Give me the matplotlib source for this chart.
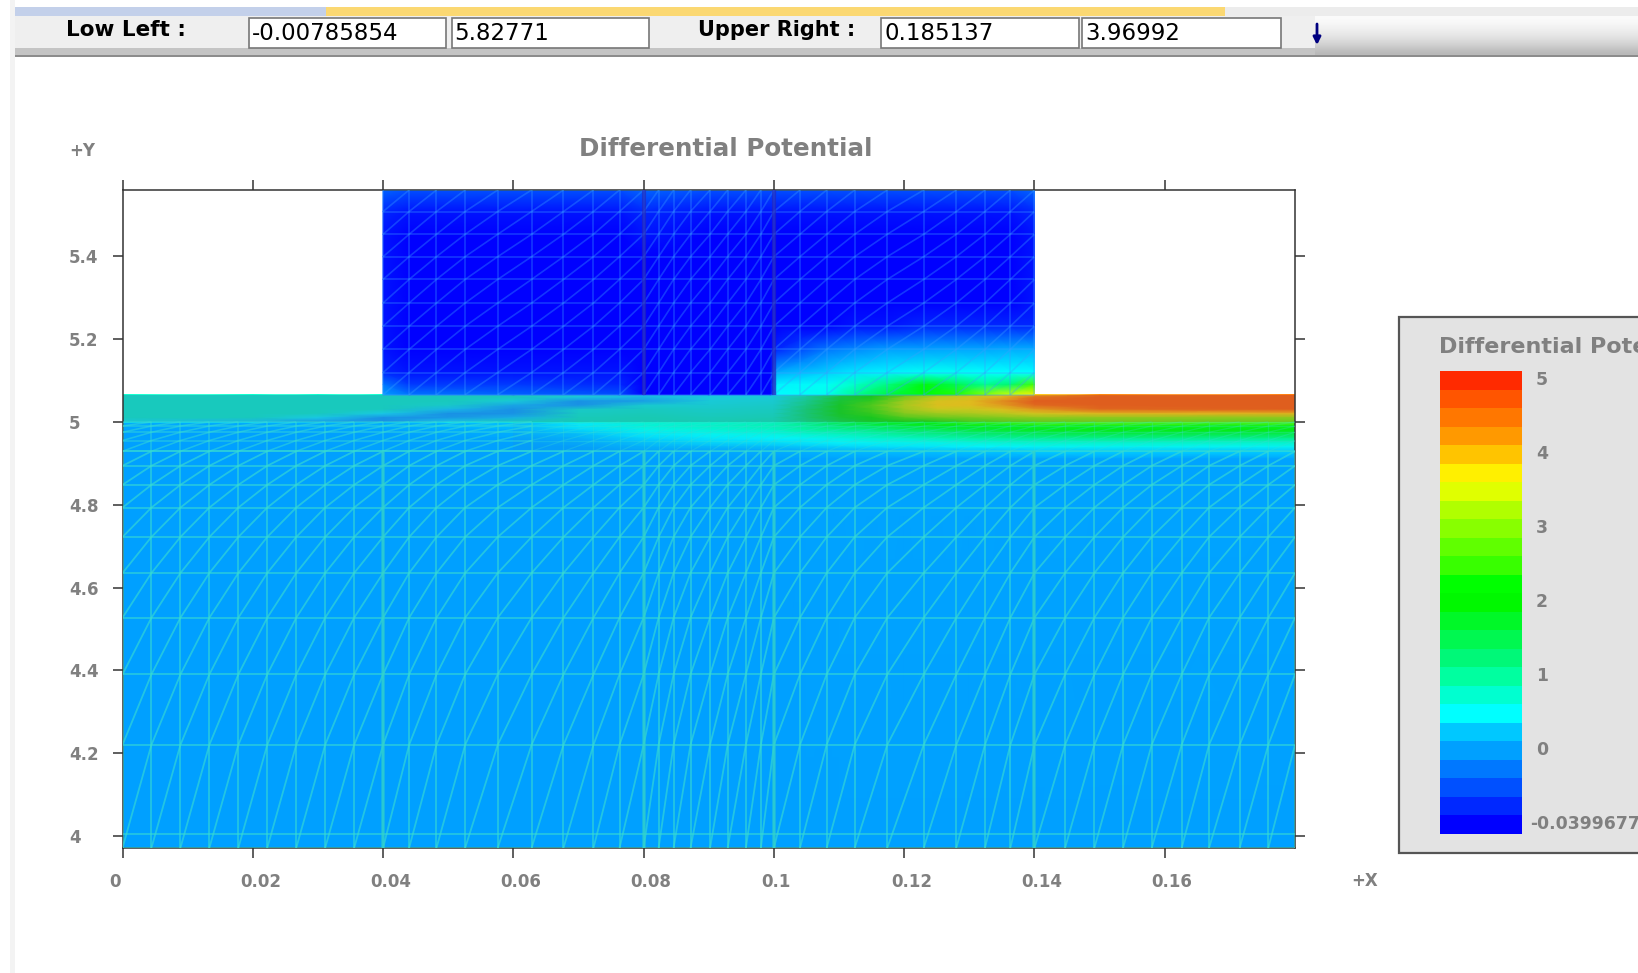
import numpy as np
import matplotlib
matplotlib.use('Agg')
import matplotlib.pyplot as plt
from matplotlib.collections import LineCollection
from matplotlib.colors import LinearSegmentedColormap, ListedColormap
from matplotlib.patches import Rectangle
from matplotlib.transforms import ScaledTranslation

W, H = 1638, 973

# legend bands, bottom to top
band_colors = ['#0000ff', '#0028ff', '#0050ff', '#0078ff', '#00a0ff', '#00c8ff', '#00ffff',
               '#00ffd0', '#00ffa0', '#00f878', '#00f850', '#00f828', '#00f800', '#00ff00',
               '#38ff00', '#60ff00', '#88ff00', '#b0ff00', '#e0ff00', '#fff000', '#ffc400',
               '#ff9900', '#ff7700', '#ff5500', '#ff2a00']
legend_ticks = [-0.0399677, 0, 1, 2, 3, 4, 5]
legend_labels = ['-0.0399677', '0', '1', '2', '3', '4', '5']
legend_bands = [0, 4, 8, 12, 16, 20, 24]

x_ticks = [0, 0.02, 0.04, 0.06, 0.08, 0.1, 0.12, 0.14, 0.16]
x_labels = ['0', '0.02', '0.04', '0.06', '0.08', '0.1', '0.12', '0.14', '0.16']
y_ticks = [4, 4.2, 4.4, 4.6, 4.8, 5, 5.2, 5.4]
y_labels = ['4', '4.2', '4.4', '4.6', '4.8', '5', '5.2', '5.4']

# mesh nodes
mesh_x = [0, 0.00444, 0.00889, 0.01333, 0.01778, 0.02222, 0.02667, 0.03111, 0.03556, 0.04,
          0.044, 0.0482, 0.0526, 0.0576, 0.0628, 0.0677, 0.0723, 0.0763, 0.08,
          0.0823, 0.0846, 0.0872, 0.0902, 0.0929, 0.0957, 0.098, 0.1,
          0.104, 0.1081, 0.1124, 0.1174, 0.123, 0.128, 0.1324, 0.1363, 0.14,
          0.1447, 0.1492, 0.1536, 0.158, 0.1626, 0.1668, 0.1715, 0.1759, 0.18]
sub_rows = [3.971, 4.22, 4.39, 4.527, 4.635, 4.722, 4.793, 4.848, 4.894, 4.929, 4.955, 4.975, 4.99, 5.0]
extra_row = 4.005
gate_rows = [5.0656, 5.119, 5.175, 5.231, 5.287, 5.344, 5.399, 5.453, 5.508, 5.56]
heavy_x = [0.04, 0.08, 0.1, 0.14]

# potential
lay_x = [0, 0.02, 0.04, 0.06, 0.07, 0.08, 0.09, 0.1, 0.105, 0.11, 0.115, 0.12, 0.125, 0.13, 0.135, 0.14, 0.15, 0.18]

sub_y = [5.0, 4.99, 4.98, 4.97, 4.96, 4.95, 4.94, 4.93, 4.91, 3.971]
sub_v = [[.1, .1, .1, .2, .45, .7, .75, .85, 1.2, 1.6, 1.9, 2.1, 2.3, 2.5, 2.6, 2.7, 2.8, 2.8],
         [.05, .05, .08, .2, .45, .7, .8, .9, 1.1, 1.4, 1.6, 1.8, 2.0, 2.1, 2.2, 2.3, 2.3, 2.3],
         [.02, .02, .03, .12, .35, .6, .7, .8, 1.0, 1.1, 1.2, 1.4, 1.5, 1.7, 1.8, 1.9, 2.0, 2.0],
         [0, 0, 0, .08, .22, .45, .55, .65, .75, .85, .95, 1.1, 1.2, 1.3, 1.4, 1.5, 1.6, 1.6],
         [0, 0, 0, .04, .14, .35, .45, .5, .55, .65, .75, .8, .9, 1.0, 1.05, 1.1, 1.15, 1.15],
         [0, 0, 0, 0, .08, .25, .35, .4, .45, .5, .55, .6, .62, .7, .75, .8, .8, .8],
         [0, 0, 0, 0, .03, .15, .2, .25, .3, .35, .4, .42, .45, .5, .5, .55, .55, .55],
         [0, 0, 0, 0, 0, .05, .05, .08, .12, .15, .18, .2, .22, .25, .25, .3, .3, .3],
         [0, 0, 0, 0, 0, 0, 0, 0, .01, .02, .02, .03, .03, .03, .03, .03, .03, .03],
         [0, 0, 0, 0, 0, 0, 0, 0, 0, 0, 0, 0, 0, 0, 0, 0, 0, 0]]

oxide_x = [0, 0.02, 0.03, 0.04, 0.05, 0.06, 0.07, 0.08, 0.09, 0.1, 0.105, 0.11, 0.115, 0.12, 0.125, 0.13, 0.135, 0.14, 0.15, 0.18]
oxide_y = [5.0656, 5.06, 5.05, 5.04, 5.03, 5.02, 5.01, 5.0]
oxide_v = [[.78, .78, .78, .78, .78, .78, .75, .55, .5, .55, .9, 1.6, 2.1, 2.7, 3.1, 3.4, 3.7, 3.9, 4.4, 4.5],
           [.78, .78, .78, .78, .78, .78, .55, .4, .55, .6, 1.0, 1.7, 2.2, 2.9, 3.4, 3.6, 3.8, 4.3, 4.5, 4.5],
           [.78, .78, .78, .78, .78, .6, .15, .25, .6, .65, 1.1, 1.8, 2.4, 3.2, 3.65, 3.75, 4.1, 4.5, 4.5, 4.5],
           [.78, .78, .78, .78, .7, .3, .15, .65, .65, .7, 1.2, 1.9, 2.6, 3.3, 3.7, 3.75, 4.0, 4.4, 4.5, 4.5],
           [.78, .78, .78, .78, .4, .15, .7, .75, .7, .75, 1.3, 1.9, 2.5, 3.2, 3.5, 3.5, 3.7, 4.0, 4.4, 4.5],
           [.78, .78, .78, .5, .15, .15, .75, .8, .75, .8, 1.3, 1.9, 2.4, 3.0, 3.2, 3.3, 3.4, 3.6, 3.8, 3.85],
           [.78, .78, .5, .15, .2, .35, .8, .85, .8, .85, 1.3, 1.8, 2.2, 2.6, 2.8, 2.9, 3.0, 3.1, 3.1, 3.1],
           [.6, .4, .2, .15, .5, .8, .85, .85, .85, .9, 1.2, 1.6, 1.9, 2.1, 2.3, 2.5, 2.6, 2.7, 2.8, 2.8]]

gate_x = [0.04, 0.044, 0.06, 0.0763, 0.08, 0.09, 0.0995, 0.1005, 0.1081, 0.1124, 0.1174, 0.123, 0.128, 0.1324, 0.1363, 0.14]
gate_y = [5.56, 5.508, 5.453, 5.399, 5.344, 5.287, 5.231, 5.175, 5.119, 5.09, 5.0656]
gate_v = [[-.015, -.02, -.02, -.02, -.015, -.02, -.02, -.02, -.02, -.02, -.02, -.02, -.02, -.02, -.02, -.015],
          [-.03, -.035, -.035, -.035, -.03, -.035, -.035, -.035, -.035, -.035, -.035, -.035, -.035, -.035, -.035, -.03],
          [-.035, -.04, -.04, -.04, -.035, -.04, -.04, -.04, -.04, -.04, -.04, -.04, -.04, -.04, -.04, -.035],
          [-.035, -.04, -.04, -.04, -.04, -.04, -.04, -.04, -.04, -.04, -.04, -.04, -.04, -.04, -.04, -.035],
          [-.035, -.04, -.04, -.04, -.04, -.04, -.04, -.04, -.04, -.04, -.04, -.04, -.04, -.04, -.04, -.035],
          [-.035, -.04, -.04, -.04, -.04, -.04, -.04, -.04, -.04, -.04, -.04, -.04, -.04, -.04, -.04, -.035],
          [-.035, -.04, -.04, -.04, -.04, -.04, -.04, -.04, -.04, -.035, -.035, -.03, -.03, -.03, -.03, -.03],
          [-.035, -.04, -.04, -.04, -.04, -.04, -.04, -.03, -.01, -.005, 0, .03, .05, .05, .08, .1],
          [-.03, -.035, -.035, -.035, -.04, -.04, -.04, .1, .3, .4, .45, .55, .55, .5, .5, .5],
          [-.01, -.025, -.025, -.03, -.04, -.04, -.04, .45, .55, .8, 1.2, 1.9, 1.5, 1.1, 1.3, 2.6],
          [0, -.01, -.015, -.02, -.04, -.04, -.04, .5, .6, 1.1, 1.6, 2.2, 2.4, 3.0, 3.4, 3.7]]


def to_band(v):
    return np.interp(np.array(v), legend_ticks, legend_bands)


def mesh_segments(xs, ys):
    segs = []
    for y in ys:
        segs.append([(xs[0], y), (xs[-1], y)])
    for x in xs:
        segs.append([(x, ys[0]), (x, ys[-1])])
    for i in range(len(xs) - 1):
        for j in range(len(ys) - 1):
            segs.append([(xs[i], ys[j]), (xs[i + 1], ys[j + 1])])
    return segs


def px_axes(left, top, right, bottom, **kw):
    return fig.add_axes([left / W, 1 - bottom / H, (right - left) / W, (bottom - top) / H], **kw)


fig = plt.figure(figsize=(W / 100, H / 100), dpi=100, facecolor='white')

# window furniture, in pixels
bg = fig.add_axes([0, 0, 1, 1], zorder=-1)
bg.set_xlim(0, W)
bg.set_ylim(H, 0)
bg.axis('off')
bg.add_patch(Rectangle((10, 0), 5, H, fc='#f3f3f3', ec='none'))
bg.add_patch(Rectangle((15, 7), 315, 9, fc='#c3d0ea', ec='none'))
bg.add_patch(Rectangle((326, 7), 899, 9, fc='#fbd872', ec='none'))
bg.add_patch(Rectangle((1225, 7), W - 1225, 9, fc='#ececec', ec='none'))
grad = np.array([[.98], [.96], [.93], [.9], [.85], [.8], [.72]])
bg.imshow(grad, extent=(15, W, 55, 16), cmap='gray', vmin=0, vmax=1, aspect='auto', interpolation='bicubic')
bg.set_xlim(0, W)
bg.set_ylim(H, 0)
bg.add_patch(Rectangle((15, 16), 1300, 32, fc='#efefef', ec='none'))
bg.add_patch(Rectangle((15, 48), 1300, 7, fc='#c4c4c4', ec='none'))
bg.add_patch(Rectangle((15, 55), W - 15, 2, fc='#8c8c8c', ec='none'))

for left, right, txt in [(249, 446, '-0.00785854'), (451.5, 649, '5.82771'),
                         (881, 1079, '0.185137'), (1082, 1281, '3.96992')]:
    bg.add_patch(Rectangle((left, 18), right - left, 30, fc='white', ec='#777777', lw=1.2))
    bg.text(left + 3, 33, txt, fontsize=16.5, color='black', va='center', ha='left')
bg.text(66, 30, 'Low Left :', fontsize=15.5, fontweight='bold', va='center')
bg.text(698, 30, 'Upper Right :', fontsize=15, fontweight='bold', va='center')
bg.annotate('', xy=(1317, 45), xytext=(1317, 24),
            arrowprops=dict(arrowstyle='-|>', color='#000080', lw=2, mutation_scale=11, shrinkA=0, shrinkB=0))

gray = '#808080'
bg.text(725.5, 149, 'Differential Potential', fontsize=17.7, fontweight='bold', color=gray, ha='center', va='center')
bg.text(69, 151, '+Y', fontsize=12, fontweight='bold', color=gray, va='center')
bg.text(1351, 881, '+X', fontsize=12, fontweight='bold', color=gray, va='center')

# legend panel
bg.add_patch(Rectangle((1399, 317), W, 536, fc='#e3e3e3', ec='#555555', lw=1.6))
bg.text(1439, 347, 'Differential Potential', fontsize=16, fontweight='bold', color=gray, va='center')

lg = px_axes(1440, 371, 1521.7, 833.5)
lg.pcolormesh(np.arange(2), np.arange(len(band_colors) + 1), np.arange(len(band_colors)).reshape(-1, 1),
              cmap=ListedColormap(band_colors), vmin=-.5, vmax=len(band_colors) - .5)
lg.set_xticks([])
lg.set_yticks([])
for s in lg.spines.values():
    s.set_visible(False)
for band, lab in zip(legend_bands, legend_labels):
    off = 8 if lab[0] == '-' else 14
    lg.annotate(lab, xy=(1, band + .5), xytext=(off * .72, 0), textcoords='offset points',
                fontsize=12.4, fontweight='bold', color=gray, va='center', ha='left', annotation_clip=False)

# chart
ax = px_axes(122.5, 190, 1295, 848)
field_cmap = LinearSegmentedColormap.from_list('field', band_colors, N=512)
ax.pcolormesh(lay_x, sub_y, to_band(sub_v), shading='gouraud', cmap=field_cmap, vmin=0, vmax=24, zorder=1)
ax.pcolormesh(oxide_x, oxide_y, to_band(oxide_v), shading='gouraud', cmap=field_cmap, vmin=0, vmax=24, zorder=1)
ax.pcolormesh(gate_x, gate_y, to_band(gate_v), shading='gouraud', cmap=field_cmap, vmin=0, vmax=24, zorder=1)
ax.axhspan(oxide_y[-1], oxide_y[0], fc=(0.43, 0.04, 0.55), alpha=.22, ec='none', zorder=2)
ax.fill_between([0.06, 0.18], 4.93, 5.0, fc=(0.2, 0.5, 0.8), alpha=.1, ec='none', zorder=2)

left_x = [x for x in mesh_x if x <= 0.0628]
right_x = [x for x in mesh_x if x >= 0.0628]
mesh_col = '#38dcd2'
ax.add_collection(LineCollection(mesh_segments(mesh_x, sub_rows[:10]), colors=mesh_col, linewidths=1.3, alpha=.62, zorder=3))
ax.add_collection(LineCollection(mesh_segments(left_x, sub_rows[9:]), colors=mesh_col, linewidths=1.15, alpha=.5, zorder=3))
ax.add_collection(LineCollection(mesh_segments(right_x, sub_rows[9:]), colors=mesh_col, linewidths=.9, alpha=.28, zorder=3))
ax.hlines(extra_row, mesh_x[0], mesh_x[-1], colors=mesh_col, linewidths=1.3, alpha=.62, zorder=3)
gx = [x for x in mesh_x if 0.04 <= x <= 0.14]
ax.add_collection(LineCollection(mesh_segments(gx, gate_rows), colors='#38a0ff', linewidths=1.2, alpha=.34, zorder=3))
ax.vlines(heavy_x, sub_rows[0], sub_rows[9], colors='#30d0c8', linewidths=2.6, alpha=.6, zorder=3)
ax.vlines([0.08, 0.1], gate_rows[0], gate_rows[-1], colors='#2828b8', linewidths=3, alpha=.65, zorder=3)

ax.set_xlim(0, 0.18)
ax.set_ylim(3.971, 5.56)
ax.set_xticks(x_ticks, labels=x_labels)
ax.set_yticks(y_ticks, labels=y_labels)
ax.tick_params(direction='out', length=7.2, width=1.1, color='#333333', top=True, right=True,
               labelcolor=gray, labelsize=12)
ax.tick_params(axis='x', pad=11)
ax.tick_params(axis='y', pad=0)
for lab in ax.get_xticklabels():
    lab.set_fontweight('bold')
    lab.set_ha('left')
    lab.set_transform(lab.get_transform() + ScaledTranslation(-13 / 100, 0, fig.dpi_scale_trans))
for lab in ax.get_yticklabels():
    lab.set_fontweight('bold')
    lab.set_ha('left')
    lab.set_transform(lab.get_transform() + ScaledTranslation(-43.5 / 100, 0, fig.dpi_scale_trans))
for s in ax.spines.values():
    s.set_color('#333333')
    s.set_linewidth(1.1)

fig.savefig('out.png', dpi=100)
